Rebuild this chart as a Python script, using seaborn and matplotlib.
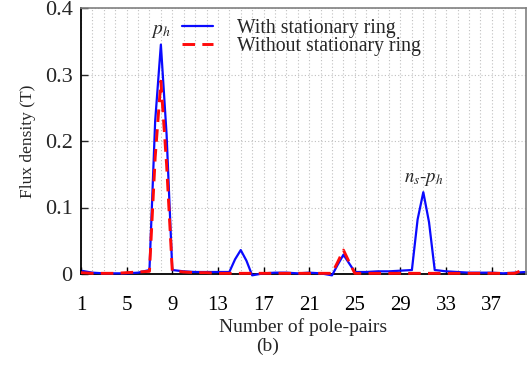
import numpy as np
import pandas as pd
import matplotlib
matplotlib.use("Agg")
import matplotlib.pyplot as plt
import seaborn as sns
from matplotlib.lines import Line2D

# ---- data ----
pole_pairs = [1, 2, 3, 4, 5, 6, 7, 7.5, 8, 8.5, 9, 10, 11, 12, 13, 14, 14.5, 15, 15.5, 16,
              17, 18, 19, 20, 21, 22, 23, 23.5, 24, 24.5, 25, 26, 27, 28, 29, 30, 30.5, 31,
              31.5, 32, 33, 34, 35, 36, 37, 38, 39, 40]
with_ring = [0.005, 0.002, 0.001, 0.001, 0.001, 0.002, 0.006, 0.230, 0.345, 0.210, 0.006,
             0.004, 0.003, 0.003, 0.003, 0.003, 0.022, 0.036, 0.020, -0.002,
             0.001, 0.002, 0.002, 0.001, 0.002, 0.001, -0.002, 0.014, 0.029, 0.016, 0.003,
             0.003, 0.004, 0.004, 0.005, 0.006, 0.082, 0.123, 0.078, 0.006,
             0.004, 0.003, 0.002, 0.002, 0.002, 0.001, 0.002, 0.003]
without_ring = [0.002, 0.001, 0.001, 0.001, 0.002, 0.003, 0.004, 0.175, 0.290, 0.165, 0.005,
                0.003, 0.002, 0.002, 0.001, 0.001, 0.001, 0.001, 0.001, 0.001,
                0.001, 0.001, 0.001, 0.001, 0.001, 0.001, 0.001, 0.018, 0.036, 0.018, 0.001,
                0.001, 0.001, 0.001, 0.001, 0.001, 0.001, 0.001, 0.001, 0.001,
                0.001, 0.001, 0.001, 0.001, 0.001, 0.001, 0.001, 0.008]
series_names = ["With stationary ring", "Without stationary ring"]
xtick_vals = [1, 5, 9, 13, 17, 21, 25, 29, 33, 37]
ytick_vals = [0, 0.1, 0.2, 0.3, 0.4]
ytick_labels = ["0", "0.1", "0.2", "0.3", "0.4"]

df = pd.DataFrame({
    "x": pole_pairs * 2,
    "y": with_ring + without_ring,
    "series": [series_names[0]] * len(pole_pairs) + [series_names[1]] * len(pole_pairs),
})

sns.set_style("ticks")
plt.rcParams["font.family"] = ["Liberation Serif", "DejaVu Serif"]
plt.rcParams["mathtext.fontset"] = "stix"

BLUE = "#0a0aff"
RED = "#ff0a0a"

fig = plt.figure(figsize=(5.28, 3.69), dpi=100)
ax = fig.add_axes([81 / 528, 1 - 274 / 369, 445 / 528, 266 / 369])

sns.lineplot(data=df, x="x", y="y", hue="series", style="series",
             palette={series_names[0]: BLUE, series_names[1]: RED},
             dashes={series_names[0]: "", series_names[1]: (4.3, 2.5)},
             ax=ax, legend=False)
lines = ax.get_lines()
lines[0].set_linewidth(1.6)
lines[1].set_linewidth(2.1)
for ln in lines:
    ln.set_clip_on(False)
    ln.set_solid_joinstyle("round")
lines[1].set_zorder(3)
lines[0].set_zorder(2.5)

ax.set_xlim(1, 40)
ax.set_ylim(0, 0.4)
ax.set_xticks(xtick_vals)
ax.set_yticks(ytick_vals)
ax.set_yticklabels(ytick_labels)
ax.set_xticks(range(1, 41), minor=True)
gkw = dict(color="#c0c0c0", linestyle=(0, (1, 2)), linewidth=0.8)
ax.grid(True, which="minor", axis="x", **gkw)
ax.grid(True, which="major", axis="x", **gkw)
ax.grid(True, which="major", axis="y", **gkw)
ax.tick_params(axis="x", which="major", direction="in", length=5, width=1, pad=16, labelsize=15, colors="black")
ax.tick_params(axis="x", which="minor", length=0)
ax.tick_params(axis="y", direction="in", length=5, width=1, pad=6, labelsize=16)
for s in ["top", "right"]:
    ax.spines[s].set_color("#808080")
    ax.spines[s].set_linewidth(1.2)
for s in ["left", "bottom"]:
    ax.spines[s].set_color("black")
    ax.spines[s].set_linewidth(1.3)
ax.spines["bottom"].set_zorder(2)

ax.set_xlabel("Number of pole-pairs", fontsize=14, labelpad=2)
ax.set_ylabel("Flux density (T)", fontsize=12.5, labelpad=6)

handles = [Line2D([], [], color=BLUE, lw=1.6),
           Line2D([], [], color=RED, lw=2.1, dashes=(4.3, 2.5))]
fig.legend(handles, series_names, loc="upper left",
           bbox_to_anchor=(182 / 528, 1 - 19 / 369), bbox_transform=fig.transFigure,
           frameon=False, fontsize=14.2, handlelength=1.55, handletextpad=1.25,
           labelspacing=-0.05, borderpad=0, borderaxespad=0)

ax.text(8, 0.352, r"$p_h$", ha="center", va="bottom", fontsize=14)
ax.text(31, 0.13, r"$n_s$-$p_h$", ha="center", va="bottom", fontsize=13.5)

fig.text(268 / 528, 1 - 346 / 369, "(b)", ha="center", va="center", fontsize=14)

fig.savefig("out.png", dpi=100)
